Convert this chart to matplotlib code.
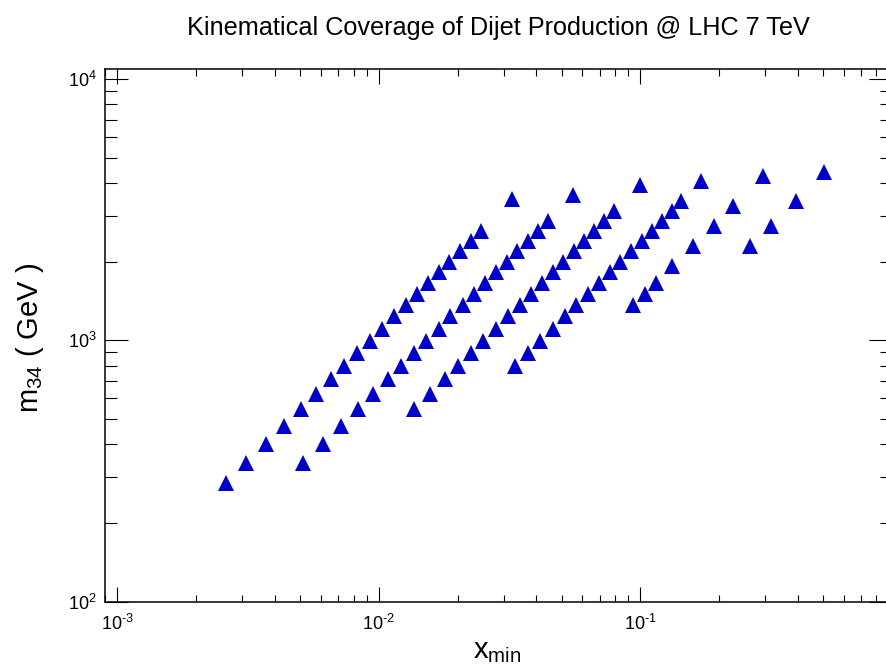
import matplotlib
matplotlib.use('Agg')
import math
import matplotlib.pyplot as plt
from matplotlib.ticker import LogLocator, FuncFormatter, NullFormatter

plt.rcParams['font.family'] = ['Liberation Sans', 'DejaVu Sans']
plt.rcParams['mathtext.fontset'] = 'custom'
plt.rcParams['mathtext.rm'] = 'Liberation Sans'
plt.rcParams['mathtext.default'] = 'regular'
plt.rcParams['axes.unicode_minus'] = False

# ---- data (x_min, m34 [GeV]) ----
s1_x = [2.604e-3, 3.106e-3, 3.704e-3, 4.341e-3, 5.027e-3, 5.753e-3, 6.548e-3, 7.360e-3,
        8.253e-3, 9.231e-3, 1.026e-2, 1.140e-2, 1.271e-2, 1.400e-2, 1.543e-2, 1.699e-2,
        1.861e-2, 2.044e-2, 2.246e-2, 2.453e-2, 3.240e-2]
s1_m = [285, 340, 403, 472, 548, 626, 710, 798, 894, 997, 1108, 1235, 1364, 1503, 1651,
        1819, 2004, 2194, 2411, 2633, 3479]

s2_x = [5.117e-3, 6.103e-3, 7.168e-3, 8.304e-3, 9.502e-3, 1.081e-2, 1.216e-2, 1.360e-2,
        1.519e-2, 1.695e-2, 1.877e-2, 2.094e-2, 2.307e-2, 2.541e-2, 2.807e-2, 3.084e-2,
        3.385e-2, 3.710e-2, 4.045e-2, 4.417e-2, 5.543e-2]
s2_m = [340, 403, 472, 548, 626, 710, 798, 894, 997, 1108, 1235, 1364, 1503, 1651, 1819,
        2004, 2194, 2411, 2633, 2874, 3603]

s3_x = [1.367e-2, 1.570e-2, 1.786e-2, 2.009e-2, 2.246e-2, 2.510e-2, 2.799e-2, 3.106e-2,
        3.451e-2, 3.814e-2, 4.201e-2, 4.624e-2, 5.076e-2, 5.578e-2, 6.108e-2, 6.671e-2,
        7.283e-2, 7.955e-2, 9.975e-2]
s3_m = [548, 626, 710, 798, 894, 997, 1108, 1235, 1364, 1503, 1651, 1819, 2004, 2194,
        2411, 2633, 2874, 3138, 3922]

s4_x = [3.310e-2, 3.720e-2, 4.146e-2, 4.624e-2, 5.152e-2, 5.692e-2, 6.294e-2, 6.952e-2,
        7.624e-2, 8.385e-2, 9.213e-2, 0.1013, 0.1106, 0.1207, 0.1319, 0.1431, 0.1702]
s4_m = [798, 894, 997, 1108, 1235, 1364, 1503, 1651, 1819, 2004, 2194, 2411, 2633, 2874,
        3138, 3427, 4062]

s5_x = [9.401e-2, 0.1039, 0.1148, 0.1322, 0.1586, 0.1913, 0.2268, 0.2954]
s5_m = [1364, 1503, 1651, 1918, 2293, 2751, 3280, 4259]

s6_x = [0.2627, 0.3153, 0.3929, 0.5053]
s6_m = [2293, 2751, 3427, 4424]

series = [(s1_x, s1_m), (s2_x, s2_m), (s3_x, s3_m), (s4_x, s4_m), (s5_x, s5_m), (s6_x, s6_m)]

title = 'Kinematical Coverage of Dijet Production @ LHC 7 TeV'
xlabel = r'x$_{min}$'
ylabel = r'm$_{34}$ ( GeV )'

# ---- figure ----
W, H = 886, 666
fig = plt.figure(figsize=(W / 100, H / 100), dpi=100)
ax = fig.add_axes([105 / W, (H - 601.7) / H, (892 - 105) / W, (601.7 - 69.3) / H])

for xs, ms in series:
    ax.plot(xs, ms, linestyle='none', marker='^', markersize=11,
            color='#0000C8', markeredgewidth=0)

ax.set_xscale('log')
ax.set_yscale('log')
ax.set_xlim(8.97e-4, 0.917)
ax.set_ylim(100, 10900)


def dec_fmt(v, pos):
    e = int(round(math.log10(v)))
    return r'$10^{\text{%d}}$' % e


for axis in (ax.xaxis, ax.yaxis):
    axis.set_major_locator(LogLocator(base=10, numticks=10))
    axis.set_minor_locator(LogLocator(base=10, subs=range(2, 10), numticks=20))
    axis.set_major_formatter(FuncFormatter(dec_fmt))
    axis.set_minor_formatter(NullFormatter())

ax.tick_params(which='both', direction='in', top=True, right=True, width=0.8,
               labelsize=13, colors='black')
ax.tick_params(axis='x', which='major', length=10.5, pad=9)
ax.tick_params(axis='x', which='minor', length=5)
ax.tick_params(axis='y', which='major', length=16.5, pad=6)
ax.tick_params(axis='y', which='minor', length=8.5)
for sp in ax.spines.values():
    sp.set_linewidth(1.1)

fig.text(498 / W, 1 - 35 / H, title, ha='center', va='baseline', fontsize=18.2)
fig.text(497 / W, 1 - 658 / H, xlabel, ha='center', va='baseline', fontsize=21)
fig.text(30 / W, 1 - 338 / H, ylabel, ha='center', va='center', rotation=90, fontsize=21)

fig.savefig('out.png', dpi=100)
